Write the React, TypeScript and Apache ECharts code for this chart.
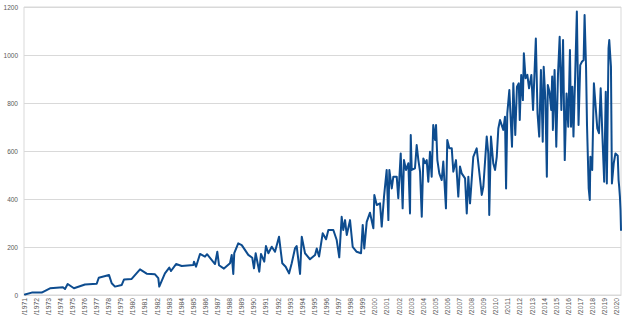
import React, { useEffect, useRef } from "react";
import * as echarts from "echarts";

// decimal year of each observation
const years: number[] = [
  1971.08, 1971.64, 1972.46, 1973.15, 1974.22, 1974.39, 1974.61, 1975.13, 1976.04, 1977.01,
  1977.18, 1978.03, 1978.25, 1978.52, 1979.08, 1979.27, 1979.9, 1980.59, 1981.14, 1981.83,
  1982.1, 1982.18, 1982.65, 1983.01, 1983.15, 1983.57, 1984.04, 1985.0, 1985.05, 1985.22,
  1985.55, 1985.96, 1986.13, 1986.79, 1986.98, 1987.12, 1987.53, 1988.03, 1988.17, 1988.3,
  1988.38, 1988.71, 1989.0, 1989.54, 1989.87, 1990.01, 1990.15, 1990.45, 1990.59, 1990.86,
  1991.0, 1991.2, 1991.48, 1991.75, 1992.08, 1992.35, 1992.63, 1992.91, 1993.13, 1993.4,
  1993.54, 1993.82, 1993.96, 1994.23, 1994.64, 1995.06, 1995.2, 1995.39, 1995.69, 1995.97,
  1996.16, 1996.57, 1996.85, 1997.06, 1997.26, 1997.39, 1997.54, 1997.68, 1997.95, 1998.17,
  1998.5, 1998.86, 1999.0, 1999.13, 1999.33, 1999.6, 1999.88, 1999.96, 2000.16, 2000.43,
  2000.57, 2000.76, 2000.98, 2001.12, 2001.2, 2001.4, 2001.53, 2001.81, 2001.94, 2002.14,
  2002.3, 2002.41, 2002.58, 2002.77, 2002.91, 2002.97, 2003.05, 2003.32, 2003.46, 2003.6,
  2003.74, 2003.88, 2004.01, 2004.15, 2004.29, 2004.42, 2004.56, 2004.7, 2004.83, 2004.98,
  2005.06, 2005.17, 2005.33, 2005.53, 2005.66, 2005.88, 2005.99, 2006.16, 2006.36, 2006.49,
  2006.71, 2006.9, 2007.04, 2007.18, 2007.46, 2007.6, 2007.73, 2007.87, 2008.14, 2008.42,
  2008.84, 2008.97, 2009.25, 2009.38, 2009.46, 2009.6, 2009.79, 2009.94, 2010.08, 2010.21,
  2010.35, 2010.49, 2010.62, 2010.76, 2010.85, 2010.95, 2011.12, 2011.34, 2011.45, 2011.61,
  2011.75, 2011.9, 2011.98, 2012.1, 2012.24, 2012.32, 2012.46, 2012.61, 2012.75, 2012.94,
  2013.08, 2013.31, 2013.45, 2013.59, 2013.73, 2013.88, 2013.96, 2014.1, 2014.22, 2014.3,
  2014.44, 2014.58, 2014.66, 2014.72, 2014.86, 2015.0, 2015.14, 2015.28, 2015.42, 2015.56,
  2015.7, 2015.85, 2015.99, 2016.13, 2016.22, 2016.33, 2016.42, 2016.56, 2016.7, 2016.84,
  2016.98, 2017.12, 2017.26, 2017.34, 2017.46, 2017.54, 2017.68, 2017.77, 2017.82, 2017.97,
  2018.11, 2018.39, 2018.53, 2018.67, 2018.81, 2018.96, 2019.09, 2019.18, 2019.32, 2019.38,
  2019.52, 2019.6, 2019.75, 2019.89, 2020.08, 2020.15, 2020.2, 2020.26, 2020.31, 2020.35,
];

const values: number[] = [
  2, 10, 10, 28, 32, 25, 46, 28, 44, 47,
  72, 83, 49, 35, 42, 65, 67, 107, 89, 86,
  70, 35, 90, 114, 100, 129, 121, 125, 139, 118,
  171, 160, 170, 129, 180, 124, 110, 132, 167, 88,
  174, 215, 208, 167, 155, 111, 174, 97, 171, 139,
  204, 174, 201, 180, 243, 132, 118, 90, 132, 194,
  204, 88, 243, 174, 149, 167, 194, 160, 257, 232,
  271, 271, 229, 157, 326, 271, 312, 250, 312, 201,
  180, 174, 292, 194, 305, 343, 278, 417, 375, 382,
  285, 410, 521, 312, 521, 444, 493, 493, 403, 590,
  361, 562, 521, 549, 340, 667, 521, 528, 625, 562,
  514, 326, 569, 549, 562, 472, 597, 493, 708, 646,
  708, 562, 507, 479, 556, 361, 646, 611, 611, 514,
  562, 410, 535, 507, 486, 340, 493, 382, 576, 611,
  417, 451, 660, 590, 333, 660, 549, 521, 576, 694,
  729, 708, 688, 743, 444, 757, 854, 618, 882, 667,
  868, 882, 729, 917, 812, 1007, 903, 917, 861, 917,
  771, 1069, 757, 660, 937, 639, 951, 812, 493, 875,
  847, 771, 910, 688, 937, 618, 917, 1076, 771, 1062,
  562, 840, 701, 1021, 701, 868, 660, 910, 1181, 708,
  958, 972, 979, 1167, 951, 708, 444, 396, 576, 521,
  882, 694, 674, 861, 667, 472, 847, 465, 1028, 1062,
  951, 465, 549, 590, 580, 479, 451, 410, 354, 271,
];

const yTicks: number[] = [0, 200, 400, 600, 800, 1000, 1200];
const firstYear = 1971;
const lastYear = 2020;

export default function App() {
  const ref = useRef<HTMLDivElement>(null);
  useEffect(() => {
    if (!ref.current) return;
    const chart = echarts.init(ref.current, null, { renderer: "svg" });
    const data = years.map((y, i) => [y, values[i]]);
    chart.setOption({
      animation: false,
      grid: {
        left: 24,
        right: 7,
        top: 7,
        bottom: 21,
        show: true,
        borderColor: "#d9d9d9",
        borderWidth: 1,
        containLabel: false,
        outerBoundsMode: "none",
      },
      xAxis: {
        type: "value",
        min: firstYear,
        max: lastYear + 0.35,
        interval: 1,
        splitLine: { show: false },
        axisTick: { show: false },
        axisLine: { show: true, lineStyle: { color: "#d9d9d9" } },
        axisLabel: {
          rotate: 90,
          margin: 3,
          fontSize: 6.8,
          color: "#595959",
          fontFamily: "Liberation Sans, Arial, sans-serif",
          showMaxLabel: false,
          formatter: (v: number) =>
            Number.isInteger(v) && v <= lastYear ? "/" + v : "",
        },
      },
      yAxis: {
        type: "value",
        min: yTicks[0],
        max: yTicks[yTicks.length - 1],
        interval: 200,
        axisLine: { show: false },
        axisTick: { show: false },
        splitLine: { lineStyle: { color: "#d9d9d9", width: 1 } },
        axisLabel: {
          margin: 6,
          fontSize: 6.5,
          color: "#595959",
          fontFamily: "Liberation Sans, Arial, sans-serif",
          formatter: (v: number) => String(v),
        },
      },
      series: [
        {
          type: "line",
          data,
          showSymbol: false,
          symbol: "none",
          lineStyle: { color: "#0d4c8f", width: 2, join: "round", cap: "round" },
        },
      ],
    });
    return () => chart.dispose();
  }, []);
  return (
    <div
      ref={ref}
      style={{ position: "fixed", left: 0, top: 0, width: 628, height: 316, background: "#fff" }}
    />
  );
}
